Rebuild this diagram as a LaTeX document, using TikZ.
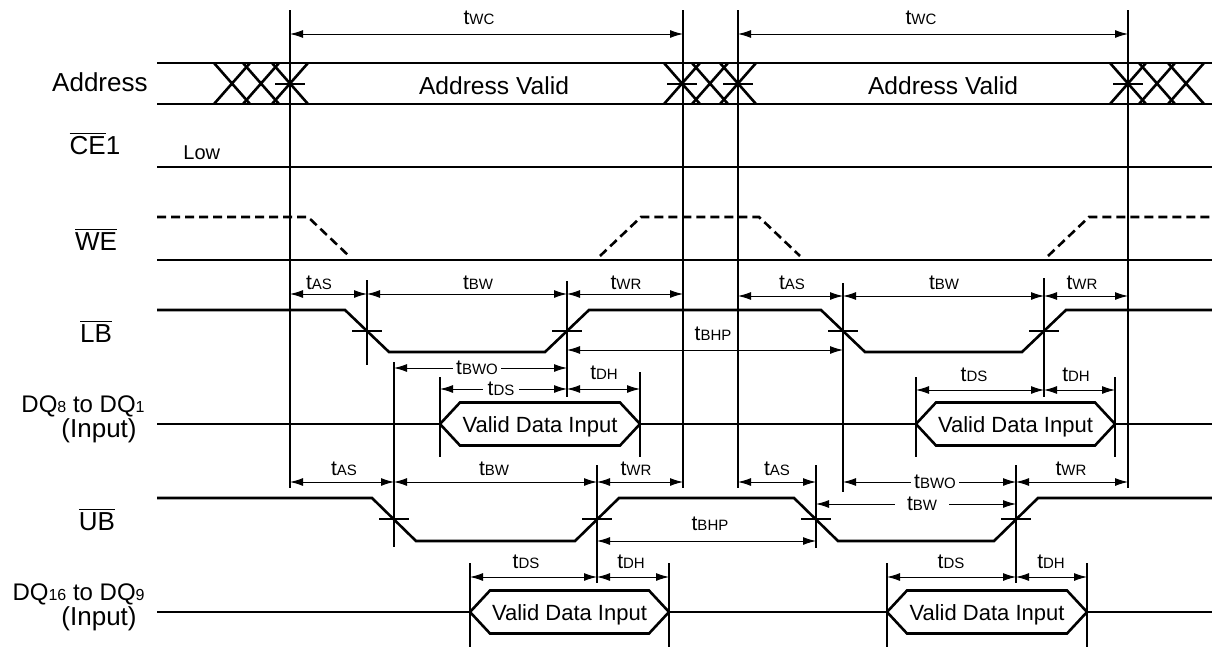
\documentclass[tikz,border=0pt]{standalone}
\usepackage{fontspec}
\setmainfont{Liberation Sans}
\usetikzlibrary{arrows.meta,positioning}

\newcommand{\tsym}[1]{{\fontsize{10.5}{12}\selectfont t}{\fontsize{7.5}{9}\selectfont #1}}
\newcommand{\ovl}[1]{$\overline{\hbox{#1}}$}
\newcommand{\qsub}[1]{{\fontsize{8}{9}\selectfont #1}}

\begin{document}
\begin{tikzpicture}[x=0.5pt,y=-0.5pt,
    wave/.style={line width=1.3pt},
    dashwave/.style={wave,dash pattern=on 4.5pt off 2.5pt},
    guide/.style={line width=0.6pt},
    dim/.style={line width=0.5pt,{Latex[length=6.5pt,width=4pt]}-{Latex[length=6.5pt,width=4pt]}},
    sname/.style={font=\fontsize{13}{14}\selectfont,inner sep=0pt,anchor=base},
    tname/.style={inner sep=0pt,anchor=base}]
\useasboundingbox (0,0) rectangle (1212,648);

\node[sname,anchor=base east] (addr) at (148,91) {Address};
\node[sname] (ce) at (95,154) {\ovl{CE}1};
\node[sname] (we) at (96,250) {\ovl{WE}};
\node[sname] (lb) at (96,342) {\ovl{LB}};
\node[sname,anchor=base east,font=\fontsize{12}{14}\selectfont] (dqlo) at (145,412) {DQ\qsub{8} to DQ\qsub{1}};
\node[sname,anchor=base east] (dqloin) at (137,437) {(Input)};
\node[sname] (ub) at (97,530) {\ovl{UB}};
\node[sname,anchor=base east,font=\fontsize{12}{14}\selectfont] (dqhi) at (145,600) {DQ\qsub{16} to DQ\qsub{9}};
\node[sname,anchor=base east] (dqhiin) at (137,625) {(Input)};

\foreach \x/\ya/\yb in {290/10/488, 683/10/488, 738/10/488, 1128/10/488,
    367/280/365, 567/281/397, 843/283/492, 1044/278/397,
    394/362/547, 440/377/457, 640/372/457, 916/377/457, 1115/377/457,
    597/465/583, 1016/465/583, 816/465/548,
    470/563/647, 669/563/647, 887/563/647, 1087/563/647}
  \draw[guide] (\x,\ya) -- (\x,\yb);

\draw[wave] (157,63) -- (1212,63) (157,104) -- (1212,104);
\foreach \c in {232,261,290,682,710,738,1128,1157,1186}
  \draw[wave] ({\c-18},63) -- ({\c+18},104) ({\c-18},104) -- ({\c+18},63);
\node[tname,font=\fontsize{12.3}{14}\selectfont] (av1) at (494,94) {Address Valid};
\node[tname,font=\fontsize{12.3}{14}\selectfont] (av2) at (943,94) {Address Valid};

\draw[wave] (157,167) -- (1212,167);
\node[tname,anchor=base west,font=\fontsize{10}{12}\selectfont] (low) at (183,159) {Low};

\draw[wave] (157,260) -- (1212,260);
\draw[dashwave] (157,217) -- (308,217) -- (349,256);
\draw[dashwave] (600,256) -- (641,217) -- (759,217) -- (800,256);
\draw[dashwave] (1048,256) -- (1089,217) -- (1212,217);

\draw[wave] (157,310) -- (345,310) -- (389,352) -- (545,352) -- (589,310)
    -- (821,310) -- (865,352) -- (1022,352) -- (1066,310) -- (1212,310);
\draw[wave] (157,498) -- (372,498) -- (416,541) -- (575,541) -- (619,498)
    -- (794,498) -- (838,541) -- (994,541) -- (1038,498) -- (1212,498);

\draw[wave] (157,424) -- (440,424) (640,424) -- (916,424) (1115,424) -- (1212,424);
\draw[wave] (157,612) -- (470,612) (669,612) -- (887,612) (1087,612) -- (1212,612);
\foreach \a/\b/\y [count=\i] in {440/640/424, 916/1115/424, 470/669/612, 887/1087/612}
{
  \draw[wave] (\a,\y) -- ({\a+20},{\y-21.5}) -- ({\b-20},{\y-21.5}) -- (\b,\y)
      -- ({\b-20},{\y+21.5}) -- ({\a+20},{\y+21.5}) -- cycle;
  \node[tname,font=\fontsize{11}{13}\selectfont] (vd\i) at ({(\a+\b)/2},{\y+8}) {Valid Data Input};
}

\foreach \x/\y in {290/84, 682/84, 738/84, 1128/84,
    367/331, 567/331, 843/331, 1044/331, 394/519, 597/519, 816/519, 1016/519}
  \draw[guide] ({\x-15},\y) -- ({\x+15},\y);

\foreach \a/\b/\y/\lx/\ly/\lab in {290/683/34/479/25/WC, 738/1128/34/921/25/WC,
    290/367/294/319/289/AS, 367/567/294/478/289/BW, 567/683/294/626/289/WR,
    738/843/296/792/289/AS, 843/1044/296/944/289/BW, 1044/1128/296/1082/289/WR,
    567/843/350/713/340/BHP,
    567/640/389/604/379/DH, 916/1044/390/974/381/DS, 1044/1115/390/1076/381/DH,
    290/394/482/344/475/AS, 394/597/482/494/475/BW, 597/683/482/636/475/WR,
    738/816/482/777/475/AS, 1016/1128/482/1071/475/WR,
    597/816/541/710/530/BHP,
    470/597/577/526/568/DS, 597/669/577/631/568/DH,
    887/1016/577/951/568/DS, 1016/1087/577/1051/568/DH}
{
  \coordinate (s) at (\a,\y);
  \coordinate (e) at (\b,\y);
  \draw[dim] (s) -- (e);
  \node[tname] at (\lx,\ly) {\tsym{\lab}};
}

\foreach \a/\b/\y/\lx/\gap/\lab in {394/567/368/477/1.5pt/BWO, 440/567/389/501/2.5pt/DS,
    843/1016/482/935/1.5pt/BWO, 816/1016/504/922/6pt/BW}
{
  \coordinate (s) at (\a,\y);
  \coordinate (e) at (\b,\y);
  \draw[dim] (s) -- (e);
  \node[fill=white,inner xsep=\gap,inner ysep=1pt] at (\lx,\y) {\tsym{\lab}};
}
\end{tikzpicture}
\end{document}
